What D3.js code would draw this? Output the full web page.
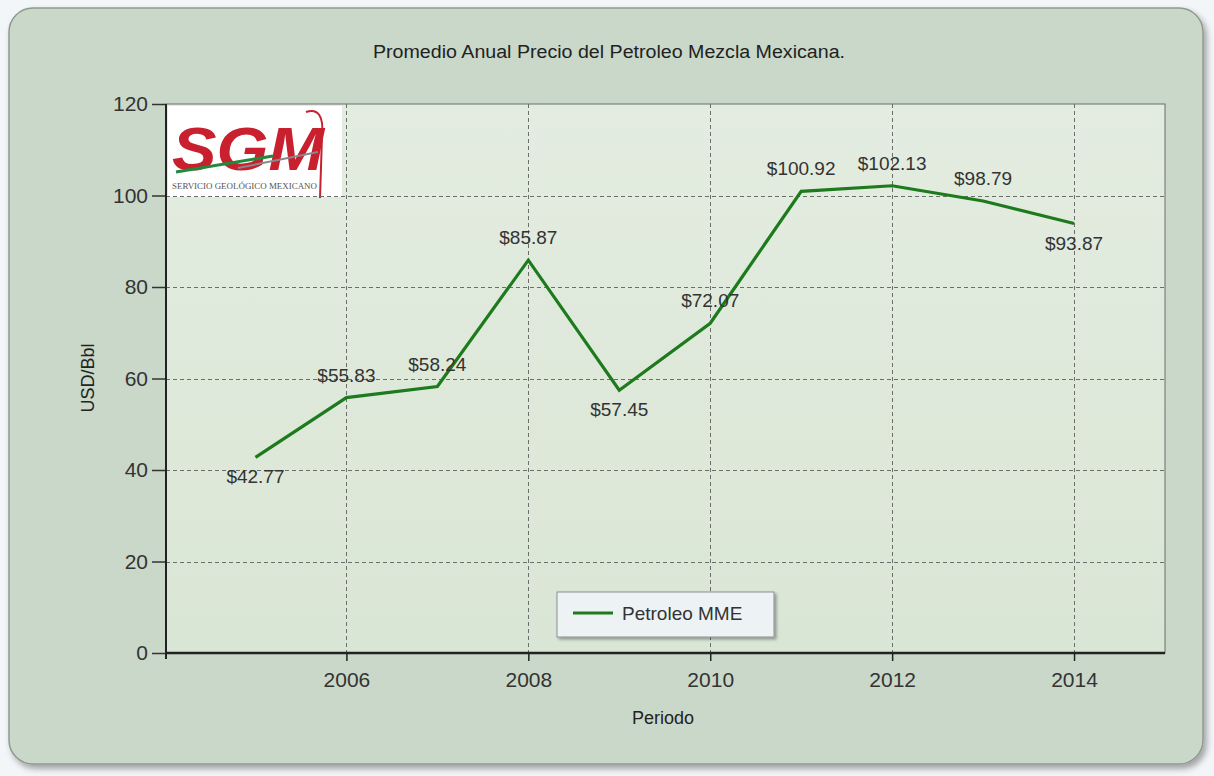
<!DOCTYPE html>
<html>
<head>
<meta charset="utf-8">
<script src="https://cdn.jsdelivr.net/npm/d3@7"></script>
<style>
  html, body { margin: 0; padding: 0; background: #f3f6f9; }
  svg { display: block; }
</style>
</head>
<body>
<svg id="chart" width="1214" height="776"></svg>
<script>
// ---- data ----
const years = [2005, 2006, 2007, 2008, 2009, 2010, 2011, 2012, 2013, 2014];
const prices = [42.77, 55.83, 58.24, 85.87, 57.45, 72.07, 100.92, 102.13, 98.79, 93.87];
const labelsBelow = [2005, 2009, 2014];
const xTicks = [2006, 2008, 2010, 2012, 2014];
const yTicks = [0, 20, 40, 60, 80, 100, 120];
const seriesName = "Petroleo MME";
const chartTitle = "Promedio Anual Precio del Petroleo Mezcla Mexicana.";
const xTitle = "Periodo";
const yTitle = "USD/Bbl";

(function () {
const svg = d3.select("#chart");
const font = "'Liberation Sans', Arial, sans-serif";

const defs = svg.append("defs");
const sh = defs.append("filter").attr("id", "shadow").attr("x", "-5%").attr("y", "-5%").attr("width", "110%").attr("height", "110%");
sh.append("feDropShadow").attr("dx", 3).attr("dy", 4).attr("stdDeviation", 3).attr("flood-color", "#000").attr("flood-opacity", 0.35);
const sh2 = defs.append("filter").attr("id", "shadow2").attr("x", "-10%").attr("y", "-20%").attr("width", "120%").attr("height", "150%");
sh2.append("feDropShadow").attr("dx", 2).attr("dy", 2).attr("stdDeviation", 1.5).attr("flood-color", "#000").attr("flood-opacity", 0.35);
const pg = defs.append("linearGradient").attr("id", "plotbg").attr("x1", 0).attr("y1", 0).attr("x2", 0).attr("y2", 1);
pg.append("stop").attr("offset", "0%").attr("stop-color", "#e3ece0");
pg.append("stop").attr("offset", "100%").attr("stop-color", "#dae6d5");

// outer panel
svg.append("rect")
  .attr("x", 9).attr("y", 8).attr("width", 1194).attr("height", 756)
  .attr("rx", 24).attr("ry", 24)
  .attr("fill", "#cad8c9").attr("stroke", "#8e9a8e").attr("stroke-width", 1.5)
  .attr("filter", "url(#shadow)");

const pL = 166, pR = 1165, pT = 104, pB = 653;
const x = d3.scaleLinear().domain([2004, 2015]).range([pL - 1.5, pR]);
const y = d3.scaleLinear().domain([0, 120]).range([pB, pT]);

// plot background
svg.append("rect").attr("x", pL).attr("y", pT).attr("width", pR - pL).attr("height", pB - pT)
  .attr("fill", "url(#plotbg)").attr("stroke", "#6a6f6a").attr("stroke-width", 1);

// logo
const logo = svg.append("g").attr("transform", "translate(168,106)");
logo.append("rect").attr("width", 174).attr("height", 91).attr("fill", "#ffffff");
logo.append("text").attr("x", 4).attr("y", 64).attr("font-family", font)
  .attr("font-size", 62).attr("font-weight", "bold").attr("font-style", "italic")
  .attr("fill", "#c8202f").attr("textLength", 152).attr("lengthAdjust", "spacingAndGlyphs").text("SGM");
logo.append("path").attr("d", "M8,66 L105,50").attr("stroke", "#1f8a3a").attr("stroke-width", 3).attr("fill", "none");
logo.append("path").attr("d", "M70,62 L150,46").attr("stroke", "#888").attr("stroke-width", 2).attr("fill", "none");
logo.append("path").attr("d", "M138,6 C150,2 156,10 154,30 L152,92").attr("stroke", "#c8202f").attr("stroke-width", 2).attr("fill", "none");
logo.append("text").attr("x", 4).attr("y", 83).attr("font-family", "'Liberation Serif', serif")
  .attr("font-size", 8).attr("fill", "#555").attr("textLength", 145).attr("lengthAdjust", "spacingAndGlyphs")
  .text("SERVICIO GEOLÓGICO MEXICANO");

// grid
const grid = svg.append("g").attr("stroke", "#6b6e6b").attr("stroke-width", 1).attr("stroke-dasharray", "4,3");
grid.selectAll("line.h").data(yTicks.filter(d => d > 0 && d < 120)).join("line").attr("class", "h")
  .attr("x1", pL).attr("x2", pR).attr("y1", d => Math.round(y(d)) + 0.5).attr("y2", d => Math.round(y(d)) + 0.5);
grid.selectAll("line.v").data(xTicks).join("line").attr("class", "v")
  .attr("x1", d => Math.round(x(d)) + 0.5).attr("x2", d => Math.round(x(d)) + 0.5).attr("y1", pT).attr("y2", pB);

// axes
const yAxis = d3.axisLeft(y).tickValues(yTicks).tickSize(14).tickPadding(4).tickFormat(d3.format("d"));
const gy = svg.append("g").attr("transform", `translate(${pL},0)`).call(yAxis);
gy.select(".domain").remove();
gy.selectAll(".tick line").attr("stroke", "#333").attr("stroke-width", 1.5);
gy.selectAll(".tick text").attr("font-family", font).attr("font-size", 21).attr("fill", "#333");

const xAxis = d3.axisBottom(x).tickValues(xTicks).tickSize(8).tickPadding(11).tickFormat(d3.format("d"));
const gx = svg.append("g").attr("transform", `translate(0,${pB})`).call(xAxis);
gx.select(".domain").remove();
gx.selectAll(".tick line").attr("stroke", "#222").attr("stroke-width", 1.5);
gx.selectAll(".tick text").attr("font-family", font).attr("font-size", 21).attr("fill", "#333");

svg.append("line").attr("x1", pL - 1).attr("x2", pR).attr("y1", pB).attr("y2", pB)
  .attr("stroke", "#222").attr("stroke-width", 2.5);
svg.append("line").attr("x1", pL).attr("x2", pL).attr("y1", pT).attr("y2", pB + 6)
  .attr("stroke", "#222").attr("stroke-width", 2);

// line series
const data = years.map((yr, i) => ({ yr, v: prices[i] }));
svg.append("path").datum(data)
  .attr("d", d3.line().x(d => x(d.yr)).y(d => y(d.v)))
  .attr("fill", "none").attr("stroke", "#1d7a1d").attr("stroke-width", 3.2).attr("stroke-linejoin", "miter");

// data labels
svg.append("g").selectAll("text").data(data).join("text")
  .attr("x", d => x(d.yr))
  .attr("y", d => labelsBelow.includes(d.yr) ? y(d.v) + 26 : y(d.v) - 16)
  .attr("text-anchor", "middle")
  .attr("font-family", font).attr("font-size", 19).attr("fill", "#333")
  .text(d => "$" + d3.format(".2f")(d.v));

// titles
svg.append("text").attr("x", 609).attr("y", 58).attr("text-anchor", "middle")
  .attr("font-family", font).attr("font-size", 18).attr("fill", "#222")
  .attr("textLength", 472).attr("lengthAdjust", "spacingAndGlyphs").text(chartTitle);
svg.append("text").attr("x", 663).attr("y", 724).attr("text-anchor", "middle")
  .attr("font-family", font).attr("font-size", 18).attr("fill", "#222").text(xTitle);
svg.append("text").attr("transform", "translate(94,378) rotate(-90)").attr("text-anchor", "middle")
  .attr("font-family", font).attr("font-size", 18).attr("fill", "#222").text(yTitle);

// legend
const lg = svg.append("g").attr("transform", "translate(557,592)");
lg.append("rect").attr("width", 217).attr("height", 45).attr("fill", "#edf2f5")
  .attr("stroke", "#8a8f94").attr("stroke-width", 1).attr("filter", "url(#shadow2)");
lg.append("line").attr("x1", 16).attr("x2", 56).attr("y1", 21).attr("y2", 21)
  .attr("stroke", "#1d7a1d").attr("stroke-width", 3.2);
lg.append("text").attr("x", 65).attr("y", 28).attr("font-family", font).attr("font-size", 19)
  .attr("fill", "#333").text(seriesName);
})();
</script>
</body>
</html>
